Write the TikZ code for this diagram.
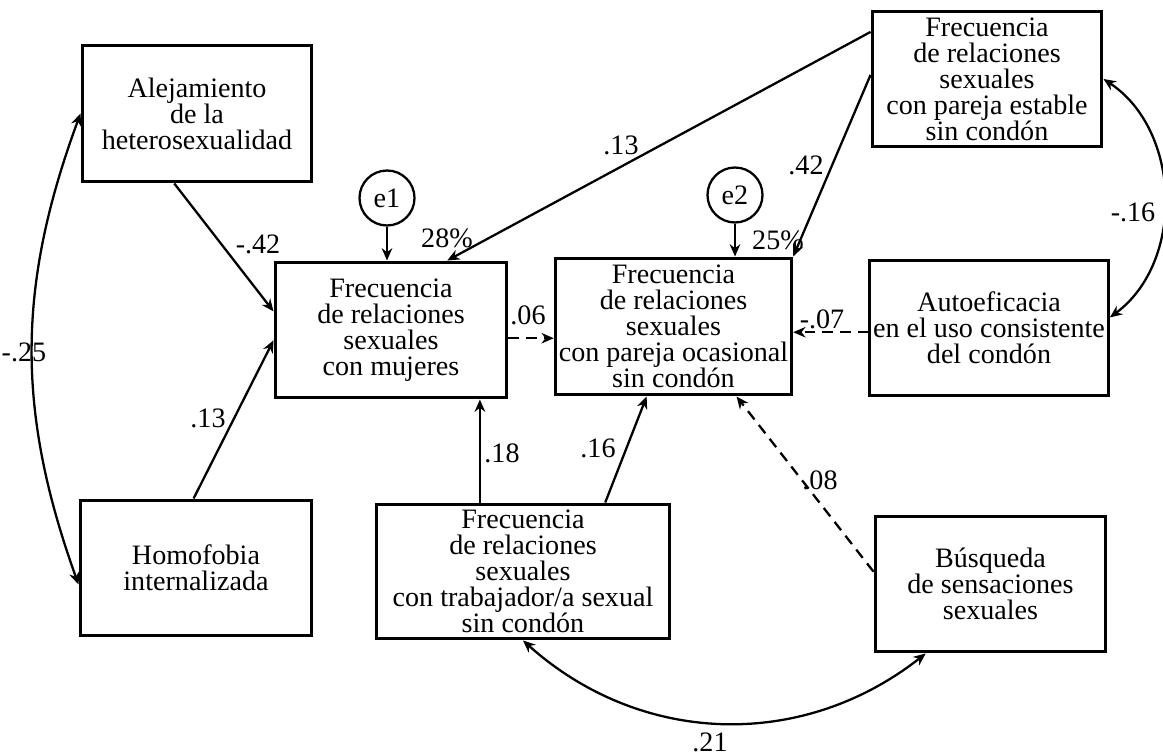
\documentclass[tikz,border=0pt]{standalone}
\usepackage{fontspec}
\setmainfont{Liberation Serif}
\usetikzlibrary{arrows.meta}

\begin{document}
\begin{tikzpicture}[x=0.02cm, y=0.02cm,
  var/.style={draw, line width=1.7pt, align=center, inner sep=2pt, font=\fontsize{16}{14.8}\selectfont},
  err/.style={draw, circle, line width=1.3pt, minimum size=1.1cm, inner sep=0pt, font=\fontsize{16}{14.8}\selectfont},
  path/.style={line width=1.3pt, -{Stealth[length=7pt,width=6pt]}},
  dpath/.style={path, dash pattern=on 6pt off 4pt},
  cov/.style={line width=1.3pt, {Stealth[length=7pt,width=6pt]}-{Stealth[length=7pt,width=6pt]}},
  lab/.style={inner sep=0pt, font=\fontsize{16}{14.8}\selectfont}]
\useasboundingbox (0,0) rectangle (1163,755);

\node[var, minimum width=4.6cm, minimum height=2.74cm] (alej) at (197,641.5) {Alejamiento\\ de la\\ heterosexualidad};
\node[var, minimum width=4.64cm, minimum height=2.72cm] (homo) at (196,187) {Homofobia\\ internalizada};
\node[var, minimum width=4.64cm, minimum height=2.72cm] (muj) at (391,425) {Frecuencia\\ de relaciones\\ sexuales\\ con mujeres};
\node[var, minimum width=4.58cm, minimum height=2.74cm] (ocas) at (673.5,428.5) {Frecuencia\\ de relaciones\\ sexuales\\ con pareja ocasional\\ sin condón};
\node[var, minimum width=4.6cm, minimum height=2.72cm] (est) at (987,676) {Frecuencia\\ de relaciones\\ sexuales\\ con pareja estable\\ sin condón};
\node[var, minimum width=4.68cm, minimum height=2.72cm] (auto) at (989,427) {Autoeficacia\\ en el uso consistente\\ del condón};
\node[var, minimum width=5.88cm, minimum height=2.7cm] (trab) at (523,183.5) {Frecuencia\\ de relaciones\\ sexuales\\ con trabajador/a sexual\\ sin condón};
\node[var, minimum width=4.62cm, minimum height=2.72cm] (busq) at (990.5,171) {Búsqueda\\ de sensaciones\\ sexuales};
\node[err] (e1) at (387,557) {e1};
\node[err] (e2) at (735,560) {e2};

\draw[path] (e1.south) -- (e1.south |- muj.north);
\draw[path] (e2.south) -- (e2.south |- ocas.north);
\draw[path] (alej.252) -- (muj.171);
\draw[path] (homo.92.5) -- (muj.185);
\draw[path] (est.158) -- (muj.51);
\draw[path] (est.178) -- (ocas.north east);
\draw[dpath] (muj.-4) -- (muj.-4 -| ocas.west);
\draw[dpath] (auto.182) -- (auto.182 -| ocas.east);
\draw[path] (trab.122.5) -- (trab.122.5 |- muj.south);
\draw[path] (trab.40.5) -- (ocas.249);
\draw[dpath] (busq.174) -- (ocas.312);
\draw[cov] (alej.west) to[bend right=20] (homo.188);
\draw[cov] (est.east) to[bend left=55] (auto.5);
\draw[cov] (trab.south) to[bend right=40] (busq.227);

\node[lab] (l1) at (258,511) {-.42};
\node[lab] (l2) at (208,337) {.13};
\node[lab] (l3) at (621,610) {.13};
\node[lab] (l4) at (447,517) {28\%};
\node[lab] (l5) at (806,590) {.42};
\node[lab] (l6) at (778,515) {25\%};
\node[lab] (l7) at (528,440) {.06};
\node[lab] (l8) at (822,436) {-.07};
\node[lab] (l9) at (502,302) {.18};
\node[lab] (l10) at (598,307) {.16};
\node[lab] (l11) at (820,275) {.08};
\node[lab] (l12) at (24,403) {-.25};
\node[lab] (l13) at (1133,543) {-.16};
\node[lab] (l14) at (710,13) {.21};
\end{tikzpicture}
\end{document}
